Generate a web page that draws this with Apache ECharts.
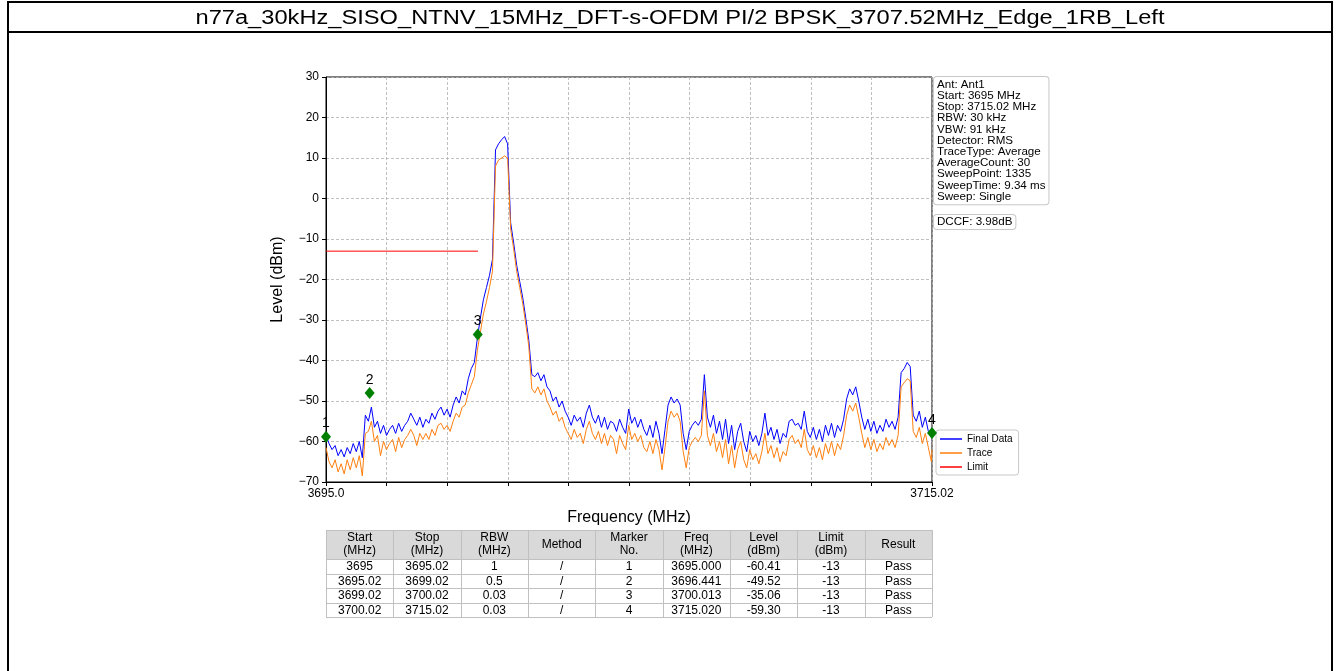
<!DOCTYPE html>
<html>
<head>
<meta charset="utf-8">
<script src="https://cdn.jsdelivr.net/npm/echarts@6/dist/echarts.min.js"></script>
<style>
html,body{margin:0;padding:0;background:#fff;}
#chart{width:1340px;height:671px;}
</style>
</head>
<body>
<div id="chart"></div>
<script>
// ---------------- DATA ----------------
const chartTitle = "n77a_30kHz_SISO_NTNV_15MHz_DFT-s-OFDM PI/2 BPSK_3707.52MHz_Edge_1RB_Left";
const startFreqMHz = 3695.0;
const stopFreqMHz = 3715.02;
const sweepStepMHz = 0.1; // resampled sweep grid (last point at stop frequency)

// Final Data (blue) levels in dBm, one per sweep grid point
const finalData = [
  -58.5,-60.5,-62.0,-61.0,-63.5,-62.0,-63.8,-61.5,-63.0,-60.5,
  -62.5,-60.0,-64.0,-53.5,-55.0,-51.5,-56.5,-55.0,-58.0,-56.0,
  -58.5,-57.0,-56.0,-58.0,-55.5,-57.5,-56.0,-55.0,-53.0,-54.5,
  -56.0,-54.0,-56.5,-54.5,-55.5,-53.0,-54.5,-52.5,-51.5,-53.5,
  -52.0,-54.0,-51.0,-49.0,-50.5,-47.5,-48.5,-44.5,-42.0,-40.5,
  -34.5,-29.5,-25.0,-22.0,-19.0,-15.0,12.0,13.5,14.5,15.3,
  13.5,-6.0,-11.0,-16.5,-20.5,-24.5,-29.5,-35.0,-43.5,-44.0,
  -43.0,-45.0,-43.5,-46.5,-47.5,-50.0,-49.0,-51.5,-50.0,-52.5,
  -54.0,-56.0,-53.5,-55.0,-54.0,-56.5,-53.0,-51.0,-54.0,-55.5,
  -53.5,-56.5,-54.0,-57.0,-55.0,-55.5,-57.5,-54.5,-56.5,-58.0,
  -52.0,-55.5,-54.0,-56.5,-54.5,-57.0,-58.5,-56.0,-59.0,-55.0,
  -58.0,-63.0,-57.0,-51.0,-49.0,-50.5,-49.5,-51.0,-58.0,-62.0,
  -57.5,-56.0,-55.0,-56.0,-54.5,-43.5,-54.0,-56.5,-53.5,-58.0,
  -55.0,-59.5,-54.5,-60.5,-56.0,-62.0,-57.5,-55.5,-60.0,-62.5,
  -57.5,-60.0,-58.5,-61.0,-58.0,-53.0,-58.5,-56.5,-59.5,-57.0,
  -60.5,-58.0,-59.0,-55.0,-54.5,-56.0,-55.5,-57.0,-52.5,-57.5,
  -59.0,-56.5,-59.5,-57.0,-60.0,-56.0,-58.5,-55.5,-59.0,-56.0,
  -57.5,-54.5,-49.5,-47.0,-48.5,-46.5,-50.0,-54.0,-57.0,-54.5,
  -57.5,-55.0,-58.0,-56.0,-57.5,-54.5,-56.5,-55.0,-57.0,-54.0,
  -43.0,-42.0,-40.5,-41.5,-53.5,-55.0,-52.5,-56.5,-54.0,-57.5,
  -59.0,-58.0
];

// Trace (orange) levels in dBm
const traceData = [
  -61.5,-65.0,-66.5,-64.5,-67.5,-65.5,-68.0,-64.5,-67.0,-64.0,
  -66.5,-63.5,-68.5,-58.0,-57.5,-55.0,-60.0,-58.5,-63.5,-60.0,
  -62.0,-60.5,-59.5,-62.5,-59.0,-61.5,-59.5,-58.5,-57.0,-58.5,
  -61.0,-58.0,-59.5,-58.0,-59.5,-57.0,-58.5,-56.0,-55.5,-57.0,
  -56.0,-57.5,-55.0,-53.0,-54.0,-51.5,-51.0,-48.0,-46.0,-44.0,
  -37.5,-33.0,-28.5,-25.5,-22.0,-18.0,8.0,9.5,10.0,10.5,
  10.0,-7.5,-12.5,-18.0,-22.0,-26.0,-31.0,-36.5,-47.0,-48.0,
  -46.5,-48.5,-47.0,-50.0,-51.5,-53.5,-52.5,-55.0,-54.0,-56.5,
  -58.0,-59.5,-57.0,-59.0,-58.0,-60.5,-57.0,-55.0,-58.0,-59.5,
  -57.5,-60.5,-58.0,-61.0,-58.5,-59.5,-63.0,-58.5,-60.5,-62.0,
  -56.0,-59.5,-58.0,-60.0,-58.5,-61.5,-62.5,-60.0,-63.0,-59.5,
  -62.0,-67.0,-61.5,-55.0,-52.5,-54.0,-53.0,-55.0,-62.5,-66.5,
  -61.5,-60.0,-59.0,-60.0,-58.5,-47.5,-58.5,-61.0,-58.0,-62.5,
  -60.0,-64.0,-59.5,-65.5,-61.0,-66.5,-62.0,-60.0,-64.5,-66.5,
  -62.0,-64.5,-63.0,-65.5,-62.5,-58.0,-63.0,-61.0,-64.0,-61.5,
  -65.0,-62.5,-63.5,-59.5,-58.5,-60.5,-59.5,-61.5,-57.0,-62.0,
  -63.5,-61.0,-64.0,-61.5,-64.5,-60.5,-63.0,-60.0,-63.5,-60.5,
  -62.0,-58.5,-53.5,-51.0,-52.5,-50.5,-54.0,-58.0,-61.5,-59.0,
  -62.0,-59.5,-62.5,-60.5,-62.0,-59.0,-61.0,-59.5,-61.5,-58.5,
  -46.5,-45.5,-44.5,-45.0,-57.5,-59.0,-56.5,-60.5,-58.0,-61.5,
  -65.0,-62.0
];

// Limit line
const limitStartMHz = 3695.0;
const limitStopMHz = 3700.02;
const limitLevel = -13;

// Markers
const markerNos = [1, 2, 3, 4];
const markerFreqMHz = [3695.000, 3696.441, 3700.013, 3715.020];
const markerPlotLevel = [-58.8, -48.0, -33.6, -57.9];

// Y ticks
const yMin = -70, yMax = 30, yStep = 10;

// Info text
const infoLines = ["Ant: Ant1","Start: 3695 MHz","Stop: 3715.02 MHz","RBW: 30 kHz","VBW: 91 kHz","Detector: RMS","TraceType: Average","AverageCount: 30","SweepPoint: 1335","SweepTime: 9.34 ms","Sweep: Single"];
const dccfText = "DCCF: 3.98dB";

// Table
const tableHeaders = ["Start\n(MHz)","Stop\n(MHz)","RBW\n(MHz)","Method","Marker\nNo.","Freq\n(MHz)","Level\n(dBm)","Limit\n(dBm)","Result"];
const colStart = ["3695","3695.02","3699.02","3700.02"];
const colStop = ["3695.02","3699.02","3700.02","3715.02"];
const colRbw = ["1","0.5","0.03","0.03"];
const colMethod = ["/","/","/","/"];
const colMarker = ["1","2","3","4"];
const colFreq = ["3695.000","3696.441","3700.013","3715.020"];
const colLevel = ["-60.41","-49.52","-35.06","-59.30"];
const colLimit = ["-13","-13","-13","-13"];
const colResult = ["Pass","Pass","Pass","Pass"];

// ---------------- BUILD ----------------
const FONT = "'Liberation Sans', Arial, sans-serif";
function freqAt(i, n) { return i === n - 1 ? stopFreqMHz : startFreqMHz + i * sweepStepMHz; }
function toPairs(arr) { return arr.map((v, i) => [+(freqAt(i, arr.length) - startFreqMHz).toFixed(4), v]); }
const span = +(stopFreqMHz - startFreqMHz).toFixed(4);
const fmtMinus = v => (v < 0 ? '\u2212' + Math.abs(v) : '' + v);

const chart = echarts.init(document.getElementById('chart'), null, {renderer: 'canvas'});

// layout constants
const G = {left: 326, top: 77, width: 606, height: 405};

const graphics = [];
// frame
graphics.push({type: 'polyline', shape: {points: [[8, 671], [8, 2], [1332, 2], [1332, 671]]}, style: {stroke: '#000', lineWidth: 2, fill: null}, silent: true});
graphics.push({type: 'line', shape: {x1: 8, y1: 32, x2: 1332, y2: 32}, style: {stroke: '#000', lineWidth: 2}, silent: true});

// title, fit to measured width
(function () {
  const c = document.createElement('canvas').getContext('2d');
  const fam = "'Liberation Sans Narrow', 'Liberation Sans', Arial, sans-serif";
  c.font = "20px " + fam;
  const w = c.measureText(chartTitle).width;
  const target = 969;
  const sx = target / w;
  graphics.push({type: 'text', x: 680, y: 18, scaleX: sx, scaleY: 1,
    style: {text: chartTitle, font: "20px " + fam, fill: '#000', textAlign: 'center', textVerticalAlign: 'middle'}, silent: true});
})();

// info box
graphics.push({type: 'text', x: 934, y: 77, style: {
  text: infoLines.join('\n'), font: '11.6px ' + FONT, lineHeight: 11.2, fill: '#000',
  backgroundColor: '#fff', borderColor: '#c8c8c8', borderWidth: 1, borderRadius: 3, padding: [2, 3, 2, 3]
}, z: 10});
graphics.push({type: 'text', x: 934, y: 215, style: {
  text: dccfText, font: '11.6px ' + FONT, lineHeight: 12, fill: '#000',
  backgroundColor: '#fff', borderColor: '#c8c8c8', borderWidth: 1, borderRadius: 3, padding: [1, 3, 1, 3]
}, z: 10});

// table
(function () {
  const tx = 326, tw = 606, ncol = tableHeaders.length, cw = tw / ncol;
  const hy = 530, hh = 29, rh = 14.5;
  const cols = [colStart, colStop, colRbw, colMethod, colMarker, colFreq, colLevel, colLimit, colResult];
  const nrow = colStart.length;
  graphics.push({type: 'rect', shape: {x: tx, y: hy, width: tw, height: hh}, style: {fill: '#d9d9d9', stroke: null}, silent: true});
  for (let c = 0; c < ncol; c++) {
    const cx = tx + cw * c + cw / 2;
    graphics.push({type: 'text', x: cx, y: hy + hh / 2, style: {text: tableHeaders[c], font: '12px ' + FONT, lineHeight: 13, fill: '#000', textAlign: 'center', textVerticalAlign: 'middle'}, silent: true});
    for (let r = 0; r < nrow; r++) {
      graphics.push({type: 'text', x: cx, y: hy + hh + rh * r + rh / 2 + 0.5, style: {text: cols[c][r], font: '12px ' + FONT, fill: '#000', textAlign: 'center', textVerticalAlign: 'middle'}, silent: true});
    }
  }
  // grid lines
  const bottom = hy + hh + rh * nrow;
  for (let c = 0; c <= ncol; c++) {
    const x = Math.round(tx + cw * c) + 0.5;
    graphics.push({type: 'line', shape: {x1: x, y1: hy, x2: x, y2: bottom}, style: {stroke: '#c0c0c0', lineWidth: 1}, silent: true});
  }
  const ys = [hy, hy + hh];
  for (let r = 1; r <= nrow; r++) ys.push(hy + hh + rh * r);
  ys.forEach(y => {
    const yy = Math.round(y) + 0.5;
    graphics.push({type: 'line', shape: {x1: tx, y1: yy, x2: tx + tw, y2: yy}, style: {stroke: '#c0c0c0', lineWidth: 1}, silent: true});
  });
})();

const option = {
  animation: false,
  backgroundColor: '#fff',
  textStyle: {fontFamily: FONT},
  grid: {left: G.left, top: G.top, width: G.width, height: G.height, show: true, borderColor: '#000', borderWidth: 1, backgroundColor: 'transparent'},
  legend: {
    orient: 'vertical', left: 936, top: 430,
    data: ['Final Data', 'Trace', 'Limit'],
    icon: 'rect', itemWidth: 22, itemHeight: 1.5, itemGap: 4,
    textStyle: {fontSize: 10, fontFamily: FONT, color: '#000', padding: [0, 0, 0, 0]},
    borderColor: '#c8c8c8', borderWidth: 1, borderRadius: 3, padding: [4, 6, 3, 4],
    backgroundColor: '#fff', selectedMode: false
  },
  xAxis: {
    type: 'value', min: 0, max: span, interval: 2.002,
    name: 'Frequency (MHz)', nameLocation: 'middle', nameGap: 28,
    nameTextStyle: {fontSize: 16, fontFamily: FONT, color: '#000'},
    axisLine: {show: true, onZero: false, lineStyle: {color: '#000', width: 1}},
    axisTick: {show: true, length: 4, lineStyle: {color: '#000'}},
    axisLabel: {show: true, color: '#000', fontSize: 12, fontFamily: FONT, margin: 6, showMinLabel: true, showMaxLabel: true,
      formatter: function (v) {
        if (Math.abs(v) < 1e-6) return startFreqMHz.toFixed(1);
        if (Math.abs(v - span) < 1e-3) return String(stopFreqMHz);
        return '';
      }},
    splitLine: {show: true, lineStyle: {color: '#b0b0b0', type: [3, 2], width: 0.8}}
  },
  yAxis: {
    type: 'value', min: yMin, max: yMax, interval: yStep,
    name: 'Level (dBm)', nameLocation: 'middle', nameGap: 40,
    nameTextStyle: {fontSize: 16, fontFamily: FONT, color: '#000'},
    axisLine: {show: true, onZero: false, lineStyle: {color: '#000', width: 1}},
    axisTick: {show: true, length: 4, lineStyle: {color: '#000'}},
    axisLabel: {color: '#000', fontSize: 12, fontFamily: FONT, margin: 7, formatter: fmtMinus},
    splitLine: {show: true, lineStyle: {color: '#b0b0b0', type: [3, 2], width: 0.8}}
  },
  series: [
    {name: 'Final Data', type: 'line', data: toPairs(finalData), symbol: 'none', lineStyle: {color: '#0000ff', width: 1}, itemStyle: {color: '#0000ff'}, clip: true, z: 3},
    {name: 'Trace', type: 'line', data: toPairs(traceData), symbol: 'none', lineStyle: {color: '#ff7f0e', width: 1}, itemStyle: {color: '#ff7f0e'}, clip: true, z: 4},
    {name: 'Limit', type: 'line', data: [[limitStartMHz - startFreqMHz, limitLevel], [+(limitStopMHz - startFreqMHz).toFixed(4), limitLevel]], symbol: 'none', lineStyle: {color: '#ff0000', width: 1}, itemStyle: {color: '#ff0000'}, z: 5},
    {name: 'Markers', type: 'scatter', symbol: 'diamond', symbolSize: [10, 12], itemStyle: {color: '#008000', opacity: 1}, z: 6, clip: false,
      data: markerNos.map((n, i) => ({value: [+(markerFreqMHz[i] - startFreqMHz).toFixed(4), markerPlotLevel[i]], name: String(n)})),
      label: {show: true, position: 'top', distance: 0, formatter: p => p.name, color: '#000', opacity: 1, fontSize: 14, fontFamily: FONT}}
  ],
  graphic: graphics
};
chart.setOption(option);
</script>
</body>
</html>
